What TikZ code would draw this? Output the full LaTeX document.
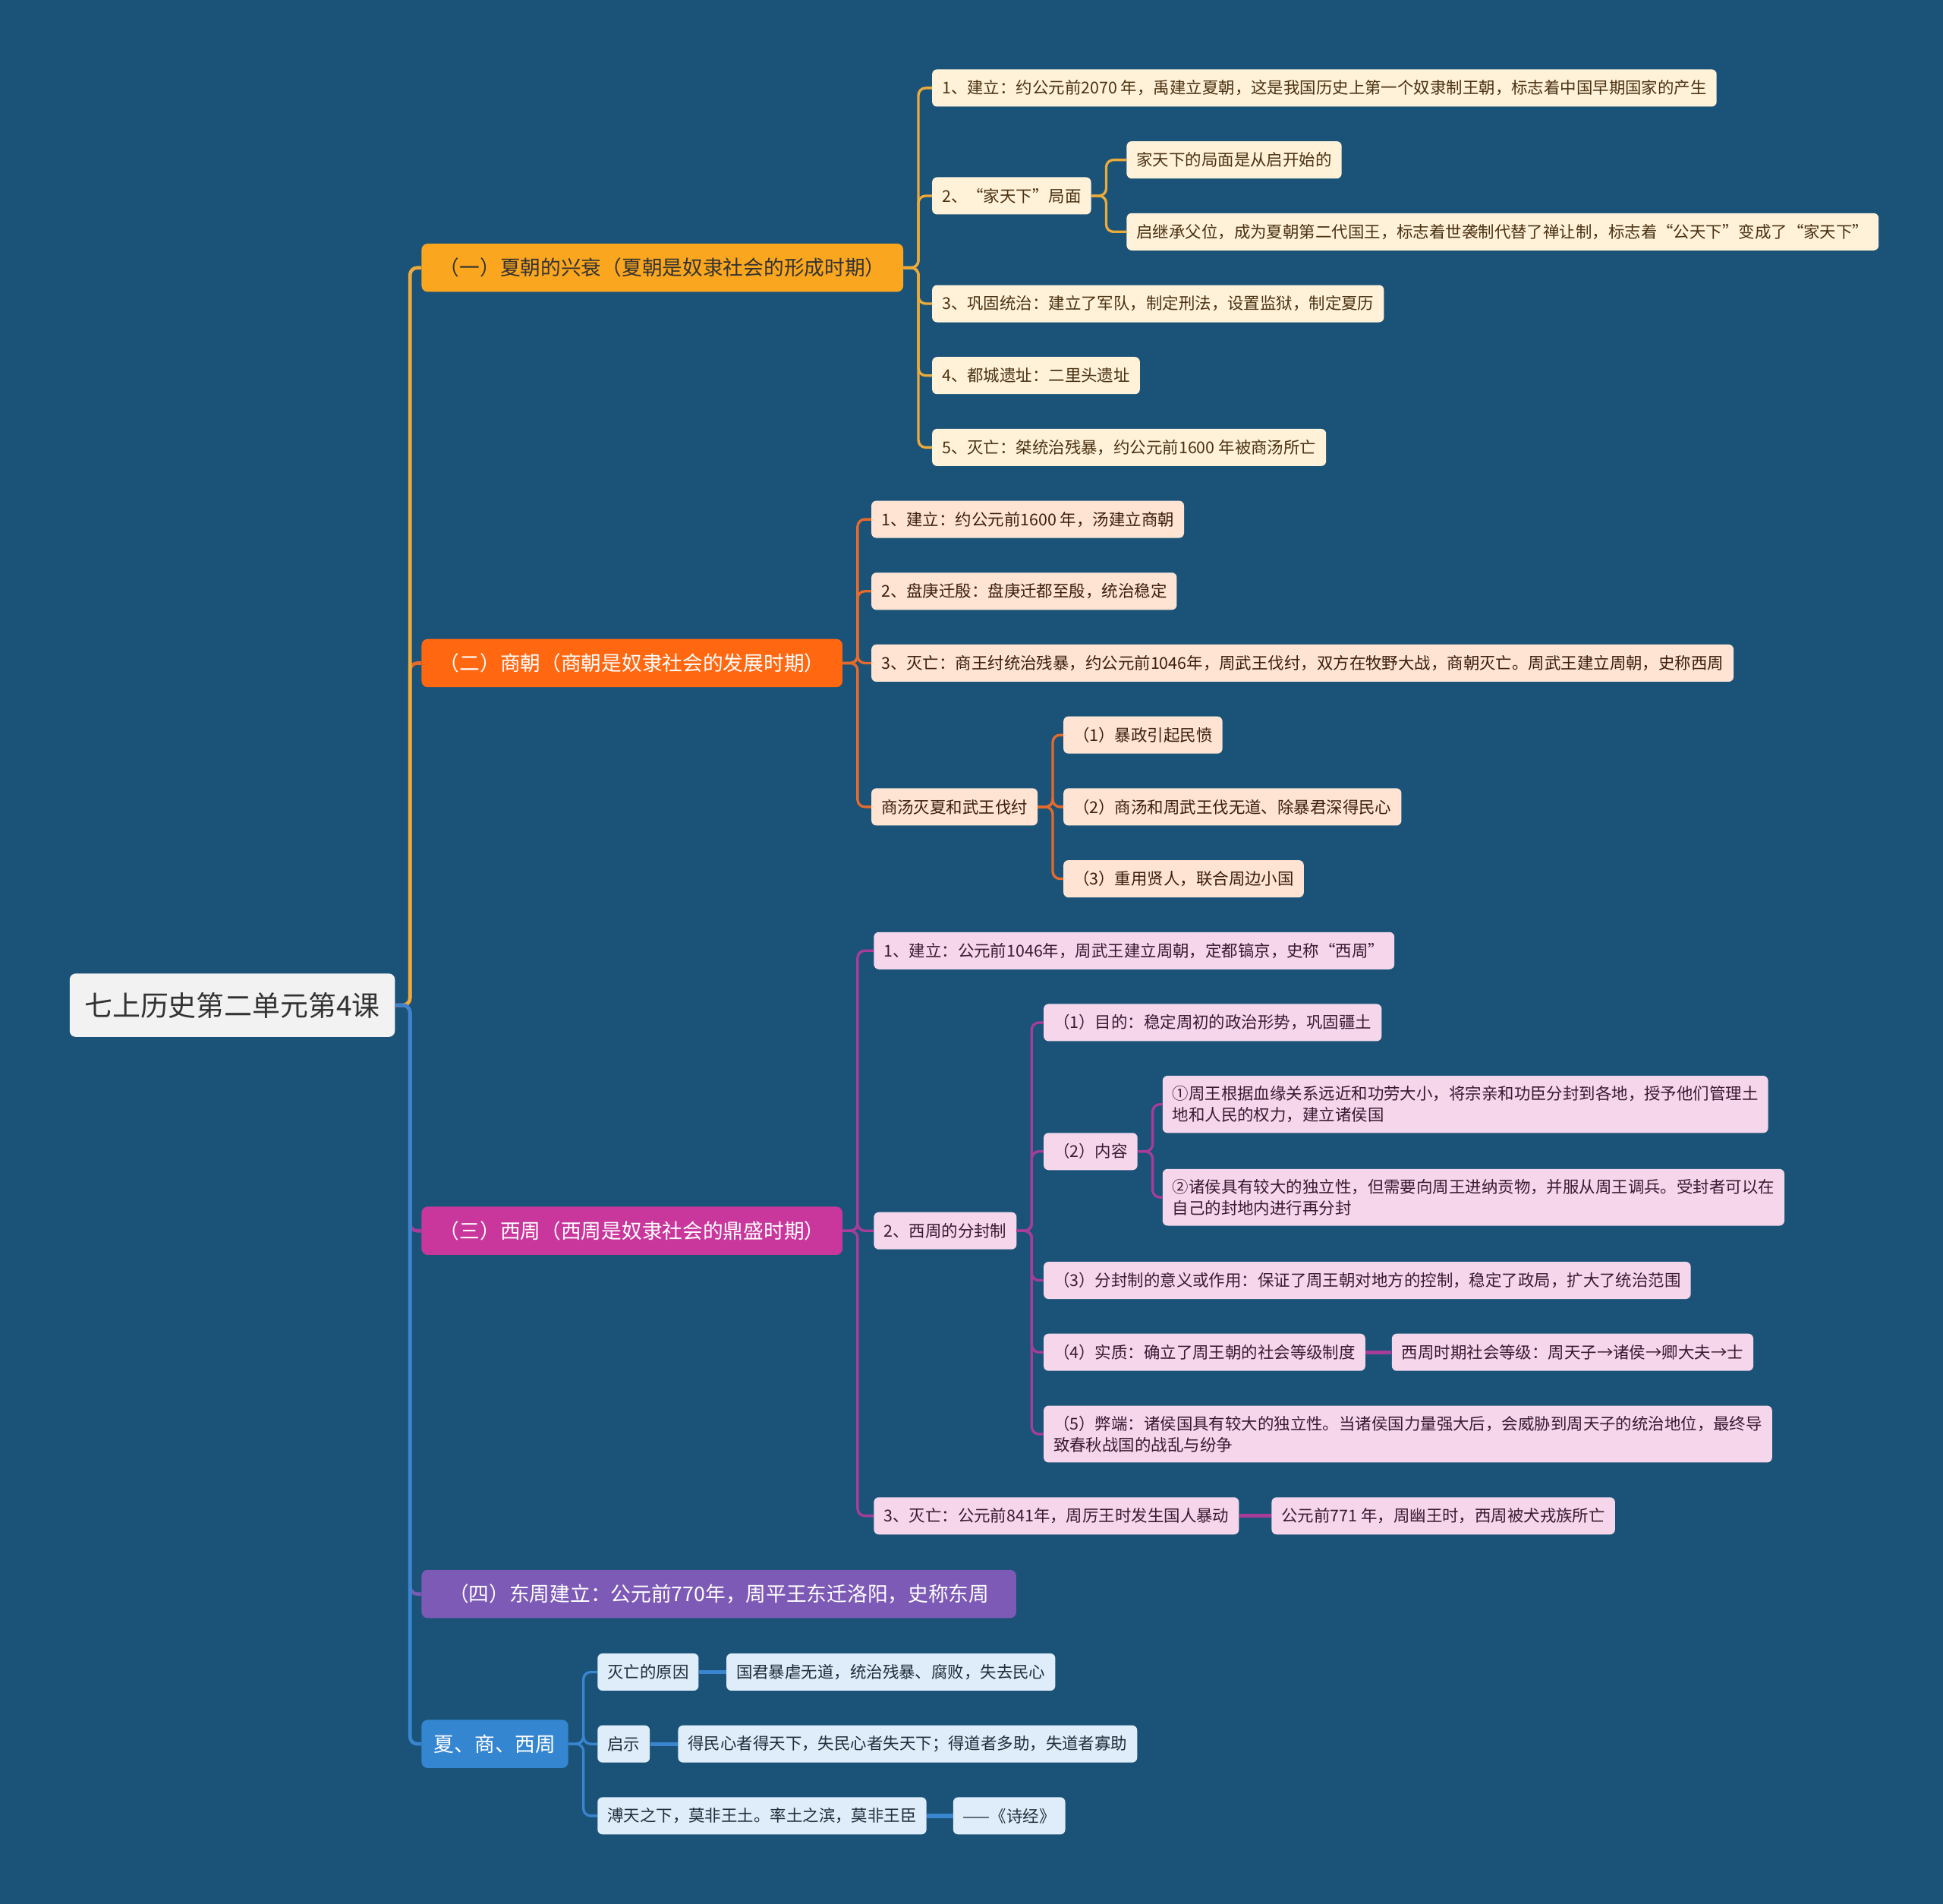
\documentclass[tikz,border=0pt]{standalone}
\usepackage{fontspec}
\setmainfont{Noto Sans CJK SC}
\usepackage{xcolor}
\usetikzlibrary{positioning}

\definecolor{bgblue}{HTML}{1A5377}
\definecolor{rootfill}{HTML}{F2F2F2}
\definecolor{xiafill}{HTML}{FAA61F}
\definecolor{xialine}{HTML}{EBAA3A}
\definecolor{xialeaf}{HTML}{FFF2D9}
\definecolor{xiatext}{HTML}{4A3212}
\definecolor{shangfill}{HTML}{FF6710}
\definecolor{shangline}{HTML}{E66A2C}
\definecolor{shangleaf}{HTML}{FFE4D4}
\definecolor{shangtext}{HTML}{3B1E0E}
\definecolor{zhoufill}{HTML}{C9379D}
\definecolor{zhouline}{HTML}{A83C9A}
\definecolor{zhouleaf}{HTML}{F5D6EB}
\definecolor{zhoutext}{HTML}{3A1A33}
\definecolor{dongfill}{HTML}{7D5AB6}
\definecolor{bluefill}{HTML}{3586D1}
\definecolor{blueline}{HTML}{3A85CF}
\definecolor{blueleaf}{HTML}{DFEDFA}
\definecolor{bluetext}{HTML}{1F2D3D}

\begin{document}
\begin{tikzpicture}[x=0.032653cm, y=-0.032653cm,
    box/.style={rectangle, rounded corners=0.13cm, anchor=west, inner xsep=0.26cm, inner ysep=0.12cm, minimum height=0.98cm, align=left, font=\fontsize{12.2}{15.8}\selectfont},
    twoline/.style={inner ysep=0.27cm},
    xiabox/.style={box, fill=xialeaf, text=xiatext},
    shangbox/.style={box, fill=shangleaf, text=shangtext},
    zhoubox/.style={box, fill=zhouleaf, text=zhoutext},
    bluebox/.style={box, fill=blueleaf, text=bluetext},
    branch/.style={rectangle, rounded corners=0.16cm, anchor=west, inner xsep=0.47cm, minimum height=1.27cm, text=white, font=\fontsize{15.2}{19}\selectfont},
    link/.style={line width=1.9pt, rounded corners=0.19cm},
    mainlink/.style={line width=2.6pt, rounded corners=0.19cm},
    single/.style={line width=3pt},
]

% Background
\fill[bgblue] (0,0) rectangle (1568,1536);

% Root
\node[rectangle, rounded corners=0.16cm, fill=rootfill, text=black!80, anchor=west, inner xsep=0.39cm, minimum height=1.67cm, font=\fontsize{21}{25}\selectfont] (R) at (56,811) {七上历史第二单元第4课};

% Branch 1: Xia
\node[branch, fill=xiafill, text=black!80] (X) at (340,216) {（一）夏朝的兴衰（夏朝是奴隶社会的形成时期）};
\node[xiabox] (X1) at (752,71) {1、建立：约公元前2070 年，禹建立夏朝，这是我国历史上第一个奴隶制王朝，标志着中国早期国家的产生};
\node[xiabox] (X2) at (752,158) {2、“家天下”局面};
\node[xiabox] (X2a) at (909,129) {家天下的局面是从启开始的};
\node[xiabox] (X2b) at (909,187) {启继承父位，成为夏朝第二代国王，标志着世袭制代替了禅让制，标志着“公天下”变成了“家天下”};
\node[xiabox] (X3) at (752,245) {3、巩固统治：建立了军队，制定刑法，设置监狱，制定夏历};
\node[xiabox] (X4) at (752,303) {4、都城遗址：二里头遗址};
\node[xiabox] (X5) at (752,361) {5、灭亡：桀统治残暴，约公元前1600 年被商汤所亡};

% Branch 2: Shang
\node[branch, fill=shangfill] (S) at (340,535) {（二）商朝（商朝是奴隶社会的发展时期）};
\node[shangbox] (S1) at (703,419) {1、建立：约公元前1600 年，汤建立商朝};
\node[shangbox] (S2) at (703,477) {2、盘庚迁殷：盘庚迁都至殷，统治稳定};
\node[shangbox] (S3) at (703,535) {3、灭亡：商王纣统治残暴，约公元前1046年，周武王伐纣，双方在牧野大战，商朝灭亡。周武王建立周朝，史称西周};
\node[shangbox] (S4) at (703,651) {商汤灭夏和武王伐纣};
\node[shangbox] (S4a) at (858,593) {（1）暴政引起民愤};
\node[shangbox] (S4b) at (858,651) {（2）商汤和周武王伐无道、除暴君深得民心};
\node[shangbox] (S4c) at (858,709) {（3）重用贤人，联合周边小国};

% Branch 3: Xi Zhou
\node[branch, fill=zhoufill] (Z) at (340,993) {（三）西周（西周是奴隶社会的鼎盛时期）};
\node[zhoubox] (Z1) at (705,767) {1、建立：公元前1046年，周武王建立周朝，定都镐京，史称“西周”};
\node[zhoubox] (Z2) at (705,993) {2、西周的分封制};
\node[zhoubox] (Z2a) at (842,825) {（1）目的：稳定周初的政治形势，巩固疆土};
\node[zhoubox] (Z2b) at (842,929) {（2）内容};
\node[zhoubox, twoline] (Z2b1) at (938,891) {①周王根据血缘关系远近和功劳大小，将宗亲和功臣分封到各地，授予他们管理土\\地和人民的权力，建立诸侯国};
\node[zhoubox, twoline] (Z2b2) at (938,966) {②诸侯具有较大的独立性，但需要向周王进纳贡物，并服从周王调兵。受封者可以在\\自己的封地内进行再分封};
\node[zhoubox] (Z2c) at (842,1033) {（3）分封制的意义或作用：保证了周王朝对地方的控制，稳定了政局，扩大了统治范围};
\node[zhoubox] (Z2d) at (842,1091) {（4）实质：确立了周王朝的社会等级制度};
\node[zhoubox] (Z2d1) at (1123,1091) {西周时期社会等级：周天子→诸侯→卿大夫→士};
\node[zhoubox, twoline] (Z2e) at (842,1157) {（5）弊端：诸侯国具有较大的独立性。当诸侯国力量强大后，会威胁到周天子的统治地位，最终导\\致春秋战国的战乱与纷争};
\node[zhoubox] (Z3) at (705,1223) {3、灭亡：公元前841年，周厉王时发生国人暴动};
\node[zhoubox] (Z3a) at (1026,1223) {公元前771 年，周幽王时，西周被犬戎族所亡};

% Branch 4: Dong Zhou
\node[branch, fill=dongfill, minimum width=15.67cm] (D) at (340,1286) {（四）东周建立：公元前770年，周平王东迁洛阳，史称东周};

% Branch 5: summary
\node[branch, fill=bluefill, inner xsep=0.33cm] (B) at (340,1407) {夏、商、西周};
\node[bluebox] (B1) at (482,1349) {灭亡的原因};
\node[bluebox] (B1a) at (586,1349) {国君暴虐无道，统治残暴、腐败，失去民心};
\node[bluebox] (B2) at (482,1407) {启示};
\node[bluebox] (B2a) at (547,1407) {得民心者得天下，失民心者失天下；得道者多助，失道者寡助};
\node[bluebox] (B3) at (482,1465) {溥天之下，莫非王土。率土之滨，莫非王臣};
\node[bluebox] (B3a) at (769,1465) {——《诗经》};

% Connections from root
\draw[mainlink, shangline] (R.east) -- ++(12,0) |- (S.west);
\draw[mainlink, xialine] (R.east) -- ++(12,0) |- (X.west);
\draw[mainlink, zhouline] (R.east) -- ++(12,0) |- (Z.west);
\draw[mainlink, dongfill] (R.east) -- ++(12,0) |- (D.west);
\draw[mainlink, blueline] (R.east) -- ++(12,0) |- (B.west);

% Connections inside branches
\foreach \c in {X1,X2,X3,X4,X5}
    \draw[link, xialine] (X.east) -- ++(12,0) |- (\c.west);
\foreach \c in {X2a,X2b}
    \draw[link, xialine] (X2.east) -- ++(12,0) |- (\c.west);

\foreach \c in {S1,S2,S3,S4}
    \draw[link, shangline] (S.east) -- ++(12,0) |- (\c.west);
\foreach \c in {S4a,S4b,S4c}
    \draw[link, shangline] (S4.east) -- ++(12,0) |- (\c.west);

\foreach \c in {Z1,Z2,Z3}
    \draw[link, zhouline] (Z.east) -- ++(12,0) |- (\c.west);
\foreach \c in {Z2a,Z2b,Z2c,Z2d,Z2e}
    \draw[link, zhouline] (Z2.east) -- ++(12,0) |- (\c.west);
\foreach \c in {Z2b1,Z2b2}
    \draw[link, zhouline] (Z2b.east) -- ++(12,0) |- (\c.west);
\draw[single, zhouline] (Z2d) -- (Z2d1);
\draw[single, zhouline] (Z3) -- (Z3a);

\foreach \c in {B1,B2,B3}
    \draw[link, blueline] (B.east) -- ++(12,0) |- (\c.west);
\draw[single, blueline] (B1) -- (B1a);
\draw[single, blueline] (B2) -- (B2a);
\draw[single, blueline] (B3) -- (B3a);

\end{tikzpicture}
\end{document}
